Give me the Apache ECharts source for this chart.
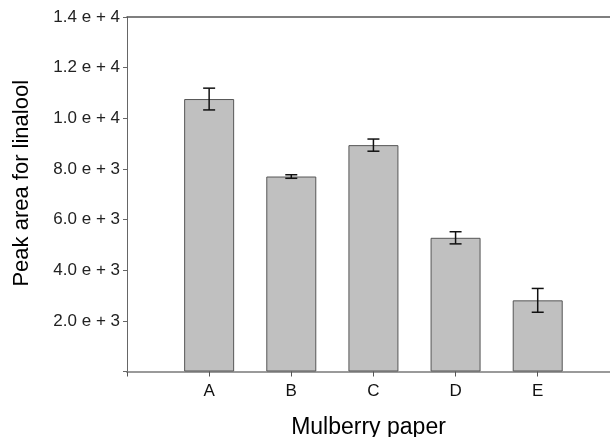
<!DOCTYPE html>
<html><head><meta charset="utf-8">
<script src="https://cdn.jsdelivr.net/npm/echarts@6/dist/echarts.min.js"></script>
<style>html,body{margin:0;padding:0;background:#fff}#c{width:610px;height:437px}</style>
</head><body><div id="c"></div>
<script>
var categories = ['A', 'B', 'C', 'D', 'E'];
var values = [10760, 7700, 8940, 5280, 2810];
var errors = [430, 70, 240, 240, 470];
var yTicks = [2000, 4000, 6000, 8000, 10000, 12000, 14000];
var yTickLabels = ['2.0 e + 3', '4.0 e + 3', '6.0 e + 3', '8.0 e + 3', '1.0 e + 4', '1.2 e + 4', '1.4 e + 4'];

var barData = values.map(function (v, i) { return [i + 1, v]; });
var errData = values.map(function (v, i) { return [i + 1, v - errors[i], v + errors[i]]; });
var font = 'Liberation Sans, Arial, sans-serif';

var chart = echarts.init(document.getElementById('c'), null, {renderer: 'canvas'});
chart.setOption({
  animation: false,
  backgroundColor: '#fff',
  grid: {left: 127, right: 0, top: 17, bottom: 65.5, containLabel: false, outerBoundsMode: 'none'},
  xAxis: [{
    type: 'value', min: 0, max: 5.88, interval: 1, position: 'bottom',
    name: 'Mulberry paper', nameLocation: 'middle', nameGap: 45,
    nameTextStyle: {fontFamily: font, fontSize: 23, color: '#000'},
    axisLine: {show: true, lineStyle: {color: '#9a9a9a', width: 2}},
    axisTick: {show: true, length: 5, lineStyle: {color: '#555', width: 1}},
    splitLine: {show: false},
    axisLabel: {
      margin: 11, fontFamily: font, fontSize: 17, color: '#111',
      showMaxLabel: false,
      formatter: function (v) { var i = Math.round(v) - 1; return (Math.abs(v - Math.round(v)) < 1e-6 && i >= 0 && i < categories.length) ? categories[i] : ''; }
    }
  }, {
    type: 'value', min: 0, max: 5.88, position: 'top',
    axisLine: {show: true, lineStyle: {color: '#555', width: 1.5}},
    axisTick: {show: false}, axisLabel: {show: false}, splitLine: {show: false}
  }],
  yAxis: {
    type: 'value', min: 0, max: 14000, interval: 2000,
    name: 'Peak area for linalool', nameLocation: 'middle', nameGap: 94, nameRotate: 90,
    nameTextStyle: {fontFamily: font, fontSize: 22, color: '#000', padding: [0, 0, 0, 22]},
    axisLine: {show: true, lineStyle: {color: '#666', width: 1}},
    axisTick: {show: true, length: 4, lineStyle: {color: '#666'}},
    splitLine: {show: false},
    axisLabel: {
      margin: 7, fontFamily: font, fontSize: 17, color: '#222',
      formatter: function (v) { var i = yTicks.indexOf(v); return i >= 0 ? yTickLabels[i] : ''; }
    }
  },
  series: [{
    type: 'bar', data: barData, barWidth: 50,
    itemStyle: {color: '#c0c0c0', borderColor: '#555', borderWidth: 1}
  }, {
    type: 'custom', data: errData, z: 10,
    renderItem: function (params, api) {
      var x = api.value(0);
      var lo = api.coord([x, api.value(1)]);
      var hi = api.coord([x, api.value(2)]);
      var cap = 6;
      var st = {stroke: '#111', lineWidth: 1.5};
      return {type: 'group', children: [
        {type: 'line', shape: {x1: lo[0], y1: lo[1], x2: hi[0], y2: hi[1]}, style: st},
        {type: 'line', shape: {x1: hi[0] - cap, y1: hi[1], x2: hi[0] + cap, y2: hi[1]}, style: st},
        {type: 'line', shape: {x1: lo[0] - cap, y1: lo[1], x2: lo[0] + cap, y2: lo[1]}, style: st}
      ]};
    }
  }]
});
</script></body></html>
